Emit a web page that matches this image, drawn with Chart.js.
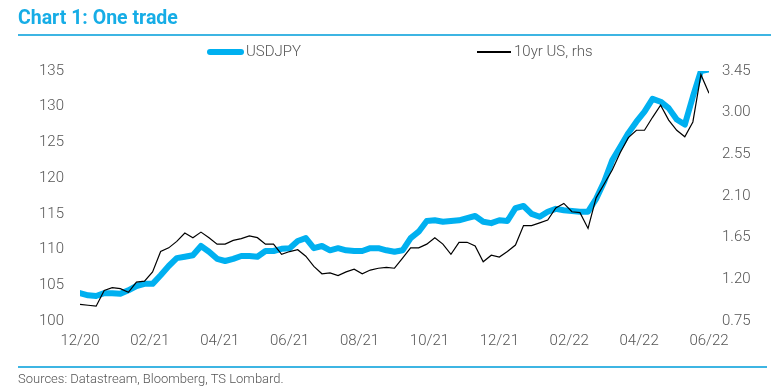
<!DOCTYPE html>
<html>
<head>
<meta charset="utf-8">
<script src="https://cdn.jsdelivr.net/npm/chart.js@4.4.1/dist/chart.umd.min.js"></script>
<style>
    html, body { margin: 0; padding: 0; background: #fff; }
    #wrap { position: relative; width: 771px; height: 391px; overflow: hidden; font-family: Roboto, sans-serif; }
    #grafik { position: absolute; left: 0; top: 0; }
    .judul { position: absolute; left: 18px; top: 6px; font-size: 19.5px; font-weight: 700; color: #16ade6; }
    .garis { position: absolute; left: 18px; height: 2px; background: #3db5e3; }
    .legenda { position: absolute; top: 42px; font-size: 15px; font-weight: 300; color: #555; line-height: 18px; }
    .legenda span.swatch { position: absolute; }
    .sumber { position: absolute; left: 18px; top: 371px; font-size: 13px; font-weight: 300; color: #555; }
</style>
</head>
<body>
<div id="wrap">
    <canvas id="grafik" width="771" height="391"></canvas>
    <div class="judul">Chart 1: One trade</div>
    <div class="garis" style="top:34px; width:753px;"></div>
    <div class="legenda" style="left:207px;">
        <span class="swatch" style="left:0; top:7px; width:37px; height:6px; border-radius:3px; background:#00b0f0;"></span>
        <span style="margin-left:39px;">USDJPY</span>
    </div>
    <div class="legenda" style="left:477px;">
        <span class="swatch" style="left:0; top:9px; width:34px; height:1.5px; background:#000;"></span>
        <span style="margin-left:37px;">10yr US, rhs</span>
    </div>
    <div class="garis" style="top:366px; width:749px;"></div>
    <div class="sumber">Sources: Datastream, Bloomberg, TS Lombard.</div>
</div>
<script>
// weekly readings, Dec 2020 to mid-June 2022
const usdjpy = [
    103.9, 103.6, 103.5, 103.9, 103.9, 103.8, 104.3, 104.9, 105.2, 105.2,
    106.4, 107.7, 108.8, 109.0, 109.2, 110.5, 109.7, 108.7, 108.4, 108.7,
    109.1, 109.1, 109.0, 109.8, 109.8, 110.1, 110.2, 111.2, 111.6, 110.2,
    110.5, 109.9, 110.2, 109.9, 109.8, 109.8, 110.2, 110.2, 109.9, 109.7,
    109.9, 111.6, 112.5, 114.0, 114.1, 113.9, 114.0, 114.1, 114.4, 114.7,
    113.9, 113.7, 114.1, 114.0, 115.8, 116.1, 115.0, 114.6, 115.3, 115.7,
    115.5, 115.4, 115.3, 115.3, 117.1, 119.5, 122.5, 124.4, 126.3, 127.9,
    129.3, 131.1, 130.7, 129.8, 128.2, 127.5, 131.4, 135.0, 135.2
];
const us10yr = [
    0.93, 0.92, 0.91, 1.08, 1.11, 1.10, 1.06, 1.17, 1.18, 1.28,
    1.50, 1.54, 1.61, 1.70, 1.65, 1.71, 1.65, 1.58, 1.58, 1.62,
    1.64, 1.67, 1.65, 1.58, 1.58, 1.47, 1.50, 1.52, 1.45, 1.34,
    1.26, 1.27, 1.24, 1.28, 1.31, 1.26, 1.30, 1.32, 1.33, 1.32,
    1.43, 1.54, 1.54, 1.58, 1.65, 1.58, 1.47, 1.60, 1.60, 1.56,
    1.39, 1.46, 1.44, 1.50, 1.57, 1.78, 1.78, 1.81, 1.84, 1.97,
    2.02, 1.93, 1.92, 1.75, 2.08, 2.23, 2.38, 2.57, 2.73, 2.81,
    2.81, 2.95, 3.08, 2.92, 2.81, 2.74, 2.90, 3.41, 3.21
];
const labelBulan = ['12/20', '02/21', '04/21', '06/21', '08/21', '10/21', '12/21', '02/22', '04/22', '06/22'];

const mingguPerBulan = 52 / 12;
const titik = arr => arr.map((v, i) => ({ x: i / mingguPerBulan, y: v }));

Chart.defaults.font.family = 'Roboto';
Chart.defaults.font.weight = 300;
Chart.defaults.color = '#555';

const ctx = document.getElementById('grafik').getContext('2d');
new Chart(ctx, {
    type: 'line',
    data: {
        datasets: [{
            label: 'USDJPY',
            data: titik(usdjpy),
            yAxisID: 'y',
            borderColor: '#00b0f0',
            borderWidth: 6,
            borderCapStyle: 'round',
            borderJoinStyle: 'round',
            pointRadius: 0,
            tension: 0,
            order: 1
        }, {
            label: '10yr US, rhs',
            data: titik(us10yr),
            yAxisID: 'y1',
            borderColor: '#000',
            borderWidth: 1.2,
            pointRadius: 0,
            tension: 0,
            order: 0
        }]
    },
    options: {
        responsive: false,
        animation: false,
        layout: { padding: { left: 0, right: 0, top: 71, bottom: 40 } },
        plugins: {
            legend: { display: false },
            tooltip: { enabled: false }
        },
        scales: {
            x: {
                type: 'linear',
                min: 0,
                max: 18,
                grid: { display: false, drawTicks: false },
                border: { display: false },
                afterFit: s => { s.height = 30; },
                ticks: {
                    stepSize: 2,
                    autoSkip: false,
                    maxRotation: 0,
                    padding: 11,
                    font: { size: 15, weight: 300 },
                    callback: v => labelBulan[Math.round(v / 2)]
                }
            },
            y: {
                position: 'left',
                min: 100,
                max: 135,
                grid: { display: false, drawTicks: false },
                border: { display: false },
                afterFit: s => { s.width = 80; },
                ticks: { stepSize: 5, padding: 16, font: { size: 15, weight: 300 } }
            },
            y1: {
                position: 'right',
                min: 0.75,
                max: 3.45,
                grid: { display: false, drawTicks: false },
                border: { display: false },
                afterFit: s => { s.width = 62; },
                ticks: {
                    stepSize: 0.45,
                    padding: 13,
                    font: { size: 15, weight: 300 },
                    callback: v => v.toFixed(2)
                }
            }
        }
    }
});
</script>
</body>
</html>
